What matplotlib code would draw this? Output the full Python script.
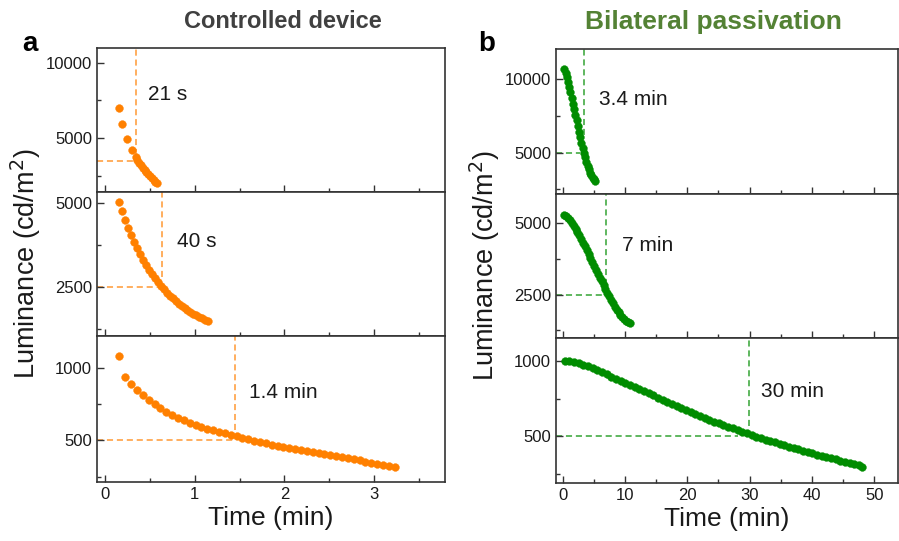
import matplotlib
matplotlib.use("Agg")
import matplotlib.pyplot as plt
from matplotlib.ticker import MultipleLocator

plt.rcParams['font.family'] = ['Liberation Sans', 'DejaVu Sans']

# ---- controlled device (a) ----
t_a1 = [0.156, 0.193, 0.245, 0.297, 0.34, 0.36, 0.38, 0.40, 0.42, 0.44, 0.46,
        0.48, 0.50, 0.52, 0.54, 0.56, 0.58]
lum_a1 = [7000, 5930, 4980, 4230, 3760, 3560, 3380, 3210, 3050, 2900, 2760,
          2630, 2500, 2380, 2260, 2140, 2030]

t_a2 = [0.16, 0.193, 0.226, 0.259, 0.292, 0.325, 0.358, 0.391, 0.424, 0.457,
        0.49, 0.523, 0.556, 0.589, 0.622, 0.655, 0.688, 0.721, 0.754, 0.787,
        0.82, 0.853, 0.886, 0.919, 0.952, 0.985, 1.018, 1.051, 1.084, 1.117, 1.15]
lum_a2 = [5010, 4745, 4495, 4260, 4040, 3835, 3645, 3470, 3305, 3150,
          3005, 2870, 2745, 2630, 2520, 2420, 2325, 2235, 2150, 2072,
          2000, 1932, 1868, 1808, 1752, 1700, 1650, 1603, 1560, 1519, 1480]

t_a3 = [0.160, 0.225, 0.291, 0.356, 0.421, 0.487, 0.552, 0.617, 0.682, 0.748,
        0.813, 0.878, 0.944, 1.009, 1.074, 1.140, 1.205, 1.270, 1.335, 1.401,
        1.466, 1.531, 1.597, 1.662, 1.727, 1.793, 1.858, 1.923, 1.988, 2.054,
        2.119, 2.184, 2.250, 2.315, 2.380, 2.446, 2.511, 2.576, 2.641, 2.707,
        2.772, 2.837, 2.903, 2.968, 3.033, 3.099, 3.164, 3.230]
lum_a3 = [1083, 936, 888, 848, 810, 777, 748, 722, 698, 676,
          656, 637, 620, 605, 593, 581, 569, 558, 547, 537,
          527, 517, 507, 498, 489, 480, 471, 463, 455, 447,
          439, 432, 425, 418, 411, 404, 398, 391, 383, 376,
          368, 361, 353, 346, 338, 331, 323, 316]

# ---- bilateral passivation (b) ----
t_b1 = [0.26, 0.457, 0.654, 0.851, 1.048, 1.245, 1.442, 1.639, 1.836, 2.033,
        2.23, 2.427, 2.624, 2.821, 3.018, 3.215, 3.412, 3.609, 3.806, 4.003,
        4.2, 4.397, 4.594, 4.791, 4.988, 5.185]
lum_b1 = [10685, 10450, 10160, 9830, 9470, 9100, 8720, 8340, 7960, 7580,
          7200, 6820, 6440, 6060, 5690, 5330, 4990, 4680, 4390, 4120,
          3870, 3650, 3460, 3300, 3190, 3103]

t_b2 = [0.26, 0.56, 0.86, 1.16, 1.46, 1.76, 2.06, 2.36, 2.66, 2.96,
        3.26, 3.56, 3.86, 4.16, 4.46, 4.76, 5.06, 5.36, 5.66, 5.96,
        6.26, 6.56, 6.86, 7.16, 7.46, 7.76, 8.06, 8.36, 8.66, 8.96,
        9.26, 9.56, 9.86, 10.16, 10.46, 10.76]
lum_b2 = [5290, 5250, 5190, 5115, 5025, 4925, 4815, 4695, 4575, 4450,
          4320, 4190, 4055, 3920, 3780, 3640, 3500, 3365, 3230, 3095,
          2960, 2830, 2700, 2570, 2440, 2310, 2185, 2070, 1965, 1870,
          1785, 1710, 1640, 1580, 1530, 1490]

t_b3 = [0.3, 1.05, 1.8, 2.55, 3.3, 4.05, 4.8, 5.55, 6.3, 7.05,
        7.8, 8.55, 9.3, 10.05, 10.8, 11.55, 12.3, 13.05, 13.8, 14.55,
        15.3, 16.05, 16.8, 17.55, 18.3, 19.05, 19.8, 20.55, 21.3, 22.05,
        22.8, 23.55, 24.3, 25.05, 25.8, 26.55, 27.3, 28.05, 28.8, 29.55,
        30.3, 31.05, 31.8, 32.55, 33.3, 34.05, 34.8, 35.55, 36.3, 37.05,
        37.8, 38.55, 39.3, 40.05, 40.8, 41.55, 42.3, 43.05, 43.8, 44.55,
        45.3, 46.05, 46.8, 47.55, 48.1]
lum_b3 = [1005, 1001, 995, 987, 977, 966, 954, 941, 927, 913,
          899, 885, 871, 857, 843, 829, 815, 801, 787, 773,
          759, 745, 731, 717, 703, 689, 675, 662, 649, 636,
          623, 611, 599, 587, 575, 564, 553, 542, 531, 520,
          509, 499, 489, 479, 469, 460, 450, 441, 431, 422,
          413, 404, 395, 386, 378, 370, 362, 354, 346, 339,
          332, 324, 317, 310, 298]

# half-life guide lines: (x of vertical, y where vertical stops, y of horizontal, x where horizontal stops)
guides_a = [(0.345, 3900, 3500, 0.345), (0.64, 2800, 2500, 0.64), (1.445, 570, 505, 1.43)]
guides_b = [(3.37, 6200, 5000, 2.8), (6.95, 2830, 2500, 6.6), (29.9, 567, 500, 28.2)]
labels_a = ['21 s', '40 s', '1.4 min']
labels_b = ['3.4 min', '7 min', '30 min']

orange = '#FF8000'
green = '#008C00'
spine_c = '#333333'

W, H = 899, 541
fig = plt.figure(figsize=(W / 100, H / 100), dpi=100)


def add_ax(x0, x1, y0, y1):
    return fig.add_axes([x0 / W, 1 - y1 / H, (x1 - x0) / W, (y1 - y0) / H])


def style(ax, xlim, xmaj, xmin, ylim, ymaj, bottom):
    ax.set_xlim(*xlim)
    ax.set_ylim(*ylim)
    ax.xaxis.set_major_locator(MultipleLocator(xmaj))
    ax.xaxis.set_minor_locator(MultipleLocator(xmin))
    ax.yaxis.set_major_locator(MultipleLocator(ymaj))
    ax.yaxis.set_minor_locator(MultipleLocator(ymaj / 2))
    ax.tick_params(which='both', direction='in', top=False, right=False,
                   colors=spine_c, labelcolor='#1a1a1a', labelsize=12, width=1)
    ax.tick_params(which='major', length=5)
    ax.tick_params(which='minor', length=3)
    if not bottom:
        ax.tick_params(axis='x', labelbottom=False)
    for s in ax.spines.values():
        s.set_color(spine_c)
        s.set_linewidth(1.2)


left_rows = [(48, 192), (192, 336), (336, 482)]
right_rows = [(49, 194), (194, 338), (338, 483)]

a_data = [(t_a1, lum_a1, (1450, 10970), 5000),
          (t_a2, lum_a2, (1033, 5318), 2500),
          (t_a3, lum_a3, (213, 1218), 500)]
b_data = [(t_b1, lum_b1, (2190, 12050), 5000),
          (t_b2, lum_b2, (972, 6032), 2500),
          (t_b3, lum_b3, (189, 1156), 500)]

# label positions in axes fraction
text_pos_a = [(0.146, 0.674), (0.229, 0.653), (0.438, 0.61)]
text_pos_b = [(0.126, 0.655), (0.192, 0.639), (0.599, 0.634)]

panels = [
    (left_rows, a_data, guides_a, labels_a, orange, (-0.09, 3.79), 1, 0.5, 97, 445, text_pos_a, 9),
    (right_rows, b_data, guides_b, labels_b, green, (-1.07, 53.8), 10, 5, 556, 898, text_pos_b, 9),
]

for rows, data, guides, labels, col, xlim, xmaj, xmin, x0, x1, tpos, lpad in panels:
    for k in range(3):
        ax = add_ax(x0, x1, rows[k][0], rows[k][1])
        t, lum, ylim, ymaj = data[k]
        style(ax, xlim, xmaj, xmin, ylim, ymaj, bottom=(k == 2))
        vx, vy, hy, hx = guides[k]
        ax.plot([vx, vx], [vy, ylim[1]], ls='--', color=col, lw=1.1, alpha=0.8,
                dashes=(4, 2.5), zorder=1)
        ax.plot([xlim[0], hx], [hy, hy], ls='--', color=col, lw=1.1, alpha=0.8,
                dashes=(4, 2.5), zorder=1)
        ax.plot(t, lum, 'o', color=col, ms=5.6, mec=col, mew=0.3, zorder=3)
        ax.text(tpos[k][0], tpos[k][1], labels[k], transform=ax.transAxes,
                fontsize=15, color='#1a1a1a', va='center', ha='left')
        if k == 2:
            ax.set_xlabel('Time (min)', fontsize=19, color='#1a1a1a', labelpad=3)
        if k == 1:
            ax.set_ylabel('Luminance (cd/m$^2$)', fontsize=19.5, color='#1a1a1a', labelpad=lpad)

fig.text(283 / W, 1 - 22 / H, 'Controlled device', fontsize=17, fontweight='bold',
         color='#404040', ha='center', va='center')
fig.text(713 / W, 1 - 22 / H, 'Bilateral passivation', fontsize=19, fontweight='bold',
         color='#548235', ha='center', va='center')
fig.text(30 / W, 1 - 44 / H, 'a', fontsize=20, fontweight='bold', ha='center', va='center')
fig.text(487 / W, 1 - 44 / H, 'b', fontsize=20, fontweight='bold', ha='center', va='center')

fig.savefig('out.png', dpi=100)
